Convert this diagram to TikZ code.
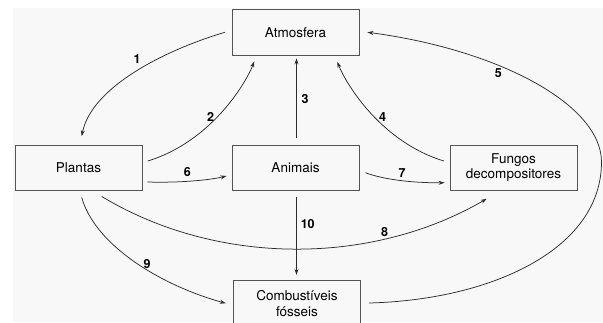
\documentclass[tikz,border=0pt]{standalone}
\usepackage{fontspec}
\setmainfont{TeX Gyre Heros}
\usetikzlibrary{calc,arrows.meta}
\definecolor{paper}{RGB}{248,248,248}
\definecolor{frame}{RGB}{85,85,85}
\definecolor{ink}{RGB}{45,45,45}
\tikzset{
  stage/.style={draw=frame, line width=0.9pt, fill=paper, minimum width=127pt,
    minimum height=45.5pt, inner sep=0pt, align=center, text=black,
    font=\fontsize{13.5}{15.5}\selectfont},
  flow/.style={draw=ink, line width=0.75pt,
    -{Stealth[length=6pt,width=4pt]}},
  tag/.style={inner sep=0pt, text=black, font=\fontsize{12.5}{14}\selectfont\bfseries}
}
\begin{document}
\begin{tikzpicture}[x=1pt,y=-1pt]
  \clip (0,0) rectangle (603,322);
  \fill[white] (0,0) rectangle (603,322);
  \fill[paper] (13.3,7.5) rectangle (603,322);

  % compartments
  \node[stage] (atm) at (295.5,32.25) {Atmosfera};
  \node[stage] (pla) at (78.5,167.75) {Plantas};
  \node[stage] (ani) at (295.5,167.75) {Animais};
  \node[stage] (fun) at (513.5,167.75) {Fungos\\decompositores};
  \node[stage] (com) at (297,303.5) {Combustíveis\\fósseis};

  % turning point of the long return loop
  \coordinate (swing) at (601.5,162);

  % fluxes
  \draw[flow] ($(atm.west)+(-6.5,0)$) .. controls (165,50) and (91.5,87) .. ($(pla.north)+(3.2,-8.3)$);
  \draw[flow] ($(pla.east)+(5.3,-6.75)$) .. controls (210,142) and (245,85) .. ($(atm.south)+(-41.2,6)$);
  \draw[flow] ($(ani.north)+(1,-7)$) -- ($(atm.south)+(1,3)$);
  \draw[flow] ($(fun.west)+(-5.7,-6.75)$) .. controls (381.6,142) and (346.6,85) .. ($(atm.south)+(41.8,6.5)$);
  \draw[flow] ($(com.east)+(8,-0.5)$) .. controls (490,300) and (601.5,250) .. (swing)
     .. controls (601.5,105) and (500,50) .. ($(atm.east)+(8,0)$);
  \draw[flow] ($(pla.east)+(5,14.25)$) .. controls (180,183) and (210,180) .. ($(ani.west)+(-5,8.25)$);
  \draw[flow] ($(ani.east)+(6,5)$) .. controls (385,180) and (415,183) .. ($(fun.west)+(-5,15)$);
  \draw[flow] ($(pla.south)+(23.2,5.5)$) .. controls (217,266) and (371,266) .. ($(fun.south)+(-26.8,7.8)$);
  \draw[flow] ($(pla.south)+(3.2,6.5)$) .. controls (95,245) and (160,285) .. ($(com.west)+(-7.3,-0.2)$);
  \draw[flow] ($(ani.south)+(1,6.5)$) -- ($(com.north)+(-0.5,-5.5)$);

  % flux numbers
  \node[tag] (n1) at (137,59) {1};
  \node[tag] (n2) at (210.7,116.7) {2};
  \node[tag] (n3) at (305,99) {3};
  \node[tag] (n4) at (382.7,116.7) {4};
  \node[tag] (n5) at (498.3,72.7) {5};
  \node[tag] (n6) at (187.3,172.3) {6};
  \node[tag] (n7) at (402,173.3) {7};
  \node[tag] (n8) at (384.6,231.7) {8};
  \node[tag] (n9) at (147,264) {9};
  \node[tag] (n10) at (307.7,224) {10};
\end{tikzpicture}
\end{document}
